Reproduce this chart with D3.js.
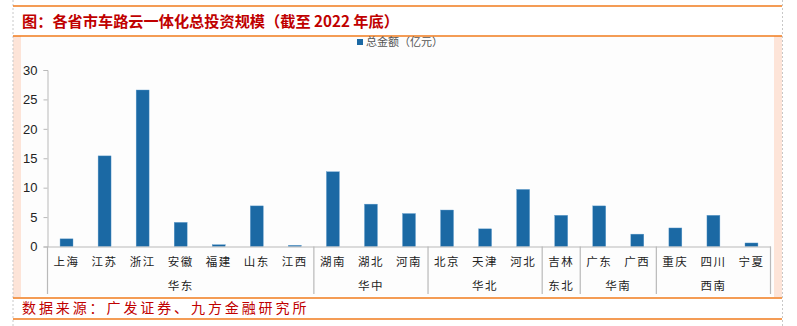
<!DOCTYPE html>
<html><head><meta charset="utf-8">
<script src="https://cdn.jsdelivr.net/npm/d3@7/dist/d3.min.js"></script>
<style>body{margin:0;background:#fff}svg{display:block}</style>
</head><body>
<svg id="c" width="797" height="326"></svg>
<script>
const categories = ["上海","江苏","浙江","安徽","福建","山东","江西","湖南","湖北","河南","北京","天津","河北","吉林","广东","广西","重庆","四川","宁夏"];
const values = [1.3,15.4,26.6,4.1,0.3,6.9,0.2,12.7,7.2,5.6,6.2,3.0,9.7,5.3,6.9,2.1,3.15,5.3,0.6];
const groups = ["华东","华中","华北","东北","华南","西南"];
const groupSizes = [7,3,3,1,2,3];
const yTicks = [0,5,10,15,20,25,30];
const title = "图：各省市车路云一体化总投资规模（截至 2022 年底）";
const legendLabel = "总金额（亿元）";
const source = "数据来源：广发证券、九方金融研究所";

const svg = d3.select("#c");
const orange = "#f07b1c", red = "#c00000", barColor = "#1b69a4", axisCol = "#b9b9b9";
const cjk = "'Noto Sans CJK SC', sans-serif";

// frame
svg.append("rect").attr("x",13).attr("y",36).attr("width",8).attr("height",261).attr("fill","#fde4d8");
svg.append("rect").attr("x",774).attr("y",36).attr("width",8).attr("height",261).attr("fill","#fde4d8");
svg.append("rect").attr("x",21).attr("y",37).attr("width",753).attr("height",259).attr("fill","#fdfdfd");
[13,782.5].forEach(x=>svg.append("line").attr("x1",x).attr("x2",x).attr("y1",0).attr("y2",326)
  .attr("stroke","#c8c8c8").attr("stroke-dasharray","2,2"));
[6,36,298,319].forEach(y=>svg.append("line").attr("x1",13).attr("x2",782).attr("y1",y).attr("y2",y)
  .attr("stroke",orange).attr("stroke-width",1.5));

svg.append("text").attr("x",22).attr("y",27).attr("fill",red).attr("font-weight","bold")
  .attr("font-family",cjk).attr("font-size",15.2).text(title);
svg.append("text").attr("x",22).attr("y",313).attr("fill",red)
  .attr("font-family",cjk).attr("font-size",14).attr("letter-spacing",2.9).text(source);

// scales
const x0 = 47.5, x1 = 770.5, yBase = 246.5, yTop = 70;
const x = d3.scaleBand().domain(categories).range([x0,x1]).paddingInner(0.66).paddingOuter(0.33);
const y = d3.scaleLinear().domain([0,30]).range([yBase,yTop]);

// y axis
const ya = svg.append("g").attr("transform",`translate(${x0},0)`)
  .call(d3.axisLeft(y).tickValues(yTicks).tickSize(4).tickPadding(6));
ya.select(".domain").attr("stroke",axisCol);
ya.selectAll(".tick line").attr("stroke",axisCol);
ya.selectAll(".tick text").attr("fill","#222").attr("font-size",13).attr("font-family","Arial, 'Liberation Sans', sans-serif");

// bars
svg.append("g").selectAll("rect").data(categories).join("rect")
  .attr("x",d=>x(d)).attr("width",x.bandwidth())
  .attr("y",(d,i)=>y(values[i])).attr("height",(d,i)=>yBase-y(values[i]))
  .attr("fill",barColor).attr("stroke","#5d9bcc").attr("stroke-width",0.4);

// x axis
const xa = svg.append("g").attr("transform",`translate(0,${yBase})`)
  .call(d3.axisBottom(x).tickSize(0).tickPadding(11));
xa.select(".domain").attr("stroke",axisCol);
xa.selectAll(".tick text").attr("fill","#222").attr("font-size",11.5).attr("font-family",cjk).attr("letter-spacing",1.5);

// group separators and labels
const step = x.step();
let start = 0;
const bounds = [0];
groupSizes.forEach(s=>{start+=s; bounds.push(start);});
bounds.forEach(b=>{
  const xx = x0 + b*step;
  svg.append("line").attr("x1",xx).attr("x2",xx).attr("y1",yBase).attr("y2",294).attr("stroke",axisCol).attr("stroke-width",1.2);
});
groups.forEach((g,i)=>{
  const cx = x0 + (bounds[i]+bounds[i+1])/2*step;
  svg.append("text").attr("x",cx).attr("y",290).attr("text-anchor","middle")
    .attr("fill","#222").attr("font-size",11.5).attr("font-family",cjk).attr("letter-spacing",1.5).text(g);
});

// legend
svg.append("rect").attr("x",357).attr("y",39).attr("width",6).attr("height",6).attr("fill",barColor);
svg.append("text").attr("x",366).attr("y",46).attr("fill","#555").attr("font-size",11)
  .attr("font-family",cjk).text(legendLabel);
</script>
</body></html>
